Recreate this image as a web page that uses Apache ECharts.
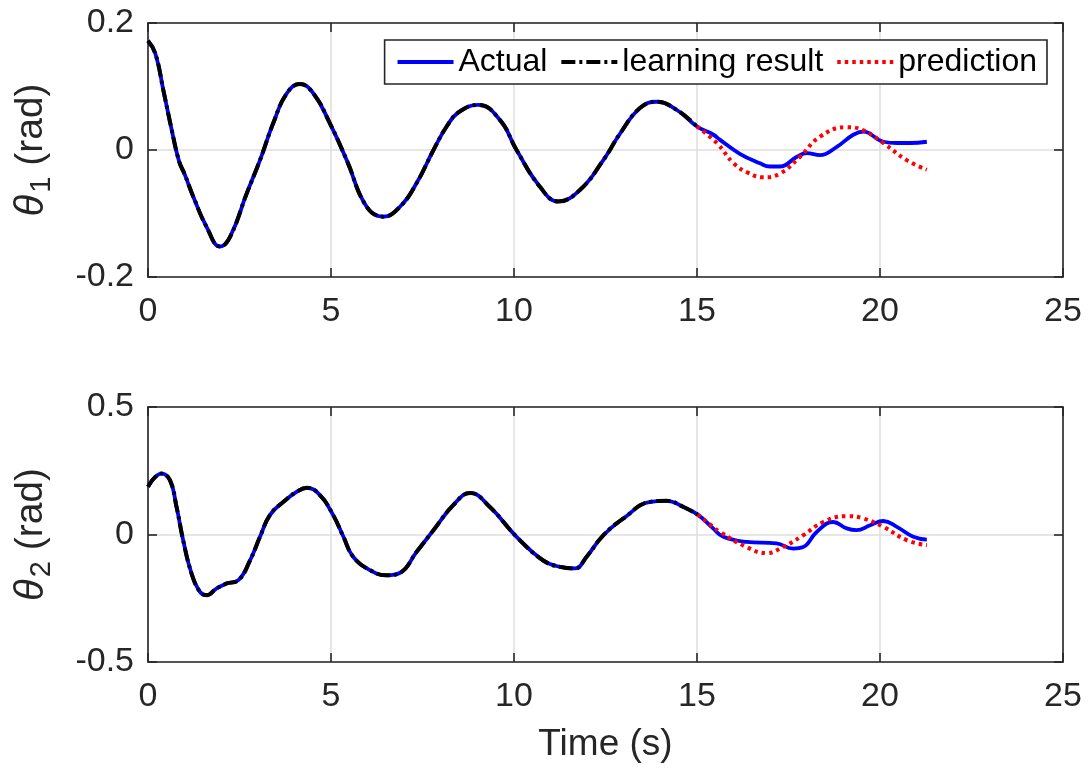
<!DOCTYPE html>
<html>
<head>
<meta charset="utf-8">
<script src="https://cdn.jsdelivr.net/npm/echarts@6/dist/echarts.min.js"></script>
<style>html,body{margin:0;padding:0;background:#fff}#c{width:1088px;height:769px}</style>
</head>
<body>
<div id="c"></div>
<script>
// ---- data ----
// theta1: learning part (actual == learning result up to t=15)
const th1LearnT = [0, 0.2, 0.42, 0.65, 0.85, 1.0, 1.24, 1.6, 1.97, 2.24, 2.7, 3.06, 3.42, 3.79, 4.15, 4.52, 4.97, 5.43, 5.97, 6.43, 6.89, 7.34, 7.8, 8.16, 8.5, 9.03, 9.62, 10.07, 10.71, 11.21, 11.8, 12.44, 12.9, 13.44, 13.9, 14.45, 15.0];
const th1LearnV = [0.172, 0.152, 0.094, 0.031, -0.018, -0.038, -0.074, -0.121, -0.152, -0.137, -0.068, -0.016, 0.042, 0.089, 0.104, 0.089, 0.042, -0.016, -0.089, -0.105, -0.089, -0.052, 0.0, 0.037, 0.06, 0.071, 0.047, 0.0, -0.058, -0.081, -0.063, -0.016, 0.026, 0.066, 0.076, 0.063, 0.037];
const th1TailT = [15.45, 15.63, 16.17, 16.72, 16.99, 17.27, 17.72, 18.0, 18.36, 18.82, 19.27, 19.54, 20.09, 20.46, 20.82, 21.28];
const th1TailV = [0.024, 0.016, -0.006, -0.021, -0.026, -0.026, -0.011, -0.005, -0.008, 0.005, 0.024, 0.029, 0.013, 0.011, 0.011, 0.013];
const th1PredT = [15.0, 15.54, 16.0, 16.4, 16.81, 17.27, 17.81, 18.36, 19.09, 19.54, 20.09, 20.73, 21.28];
const th1PredV = [0.037, 0.011, -0.021, -0.036, -0.043, -0.037, -0.011, 0.021, 0.036, 0.031, 0.011, -0.016, -0.031];

// theta2
const th2LearnT = [0, 0.37, 0.6, 0.78, 0.96, 1.19, 1.42, 1.6, 1.87, 2.15, 2.47, 2.79, 3.06, 3.33, 3.7, 4.06, 4.34, 4.7, 5.06, 5.34, 5.61, 6.07, 6.52, 6.89, 7.34, 7.8, 8.34, 8.8, 9.34, 10.07, 10.79, 11.26, 11.67, 11.98, 12.44, 12.99, 13.72, 14.17, 14.63, 15.02];
const th2LearnV = [0.187, 0.239, 0.213, 0.108, -0.022, -0.153, -0.225, -0.238, -0.212, -0.192, -0.179, -0.101, -0.009, 0.076, 0.128, 0.167, 0.183, 0.154, 0.076, -0.009, -0.088, -0.14, -0.16, -0.15, -0.068, 0.017, 0.115, 0.163, 0.108, -0.009, -0.101, -0.127, -0.133, -0.088, -0.003, 0.063, 0.128, 0.132, 0.108, 0.078];
const th2TailT = [15.44, 15.72, 16.35, 17.17, 17.63, 17.9, 18.27, 18.72, 19.09, 19.36, 19.73, 20.09, 20.46, 20.91, 21.28];
const th2TailV = [0.024, -0.009, -0.029, -0.035, -0.055, -0.049, 0.01, 0.049, 0.024, 0.017, 0.036, 0.053, 0.03, -0.009, -0.02];
const th2PredT = [15.02, 15.44, 15.63, 16.35, 16.9, 17.35, 17.9, 18.45, 19.09, 19.54, 20.09, 20.73, 21.28];
const th2PredV = [0.078, 0.03, 0.01, -0.049, -0.073, -0.049, -0.003, 0.049, 0.072, 0.063, 0.03, -0.022, -0.042];

const legendNames = ['Actual', 'learning result', 'prediction'];

// ---- build ----
const zip = (t, v) => t.map((x, i) => [x, v[i]]);
const th1Learn = zip(th1LearnT, th1LearnV);
const th1Actual = th1Learn.concat(zip(th1TailT, th1TailV));
const th1Pred = zip(th1PredT, th1PredV);
const th2Learn = zip(th2LearnT, th2LearnV);
const th2Actual = th2Learn.concat(zip(th2TailT, th2TailV));
const th2Pred = zip(th2PredT, th2PredV);

const FONT = 'Liberation Sans, Arial, sans-serif';
const DARK = '#262626';
const GRIDC = '#dedede';

function fmt(v) { return Math.abs(v) < 1e-9 ? '0' : String(+v.toFixed(2)); }

function mainX(gi, showName) {
  return {
    type: 'value', gridIndex: gi, min: 0, max: 25, interval: 5, position: 'bottom',
    axisLine: { show: true, onZero: false, lineStyle: { color: DARK, width: 1.6 } },
    axisTick: { show: true, inside: true, length: 9, lineStyle: { color: DARK, width: 1.6 } },
    axisLabel: { show: true, fontSize: 34, fontFamily: FONT, color: DARK, margin: 18, formatter: fmt },
    splitLine: { show: true, lineStyle: { color: GRIDC, width: 1.5 } },
    name: showName ? 'Time (s)' : '', nameLocation: 'middle', nameGap: 64,
    nameTextStyle: { fontSize: 37, fontFamily: FONT, color: DARK }
  };
}
function mirrorX(gi) {
  return {
    type: 'value', gridIndex: gi, min: 0, max: 25, interval: 5, position: 'top',
    axisLine: { show: true, onZero: false, lineStyle: { color: DARK, width: 1.6 } },
    axisTick: { show: true, inside: true, length: 9, lineStyle: { color: DARK, width: 1.6 } },
    axisLabel: { show: false }, splitLine: { show: false }
  };
}
function mainY(gi, mn, mx, iv, sub) {
  return {
    type: 'value', gridIndex: gi, min: mn, max: mx, interval: iv, position: 'left',
    axisLine: { show: true, onZero: false, lineStyle: { color: DARK, width: 1.6 } },
    axisTick: { show: true, inside: true, length: 9, lineStyle: { color: DARK, width: 1.6 } },
    axisLabel: { show: true, fontSize: 34, fontFamily: FONT, color: DARK, margin: 14, formatter: fmt },
    splitLine: { show: true, lineStyle: { color: GRIDC, width: 1.5 } },
    name: '{th|θ}{sub|' + sub + '}{n| (rad)}', nameLocation: 'middle', nameGap: 92, nameRotate: 90,
    nameTextStyle: {
      fontSize: 39, fontFamily: FONT, color: DARK,
      rich: {
        th: { fontSize: 40, fontStyle: 'italic', fontFamily: FONT, color: DARK },
        sub: { fontSize: 29, fontFamily: FONT, color: DARK, padding: [20, 0, 0, 2] },
        n: { fontSize: 39, fontFamily: FONT, color: DARK }
      }
    }
  };
}
function mirrorY(gi, mn, mx, iv) {
  return {
    type: 'value', gridIndex: gi, min: mn, max: mx, interval: iv, position: 'right',
    axisLine: { show: true, onZero: false, lineStyle: { color: DARK, width: 1.6 } },
    axisTick: { show: true, inside: true, length: 9, lineStyle: { color: DARK, width: 1.6 } },
    axisLabel: { show: false }, splitLine: { show: false }
  };
}

function series(name, data, xi, yi, style, z) {
  return {
    name: name, type: 'line', data: data, xAxisIndex: xi, yAxisIndex: yi,
    symbol: 'none', showSymbol: false, smooth: 0.45, z: z, animation: false,
    itemStyle: { color: style.color },
    lineStyle: style
  };
}
const sA = { color: '#0000ff', width: 3.8, type: 'solid' };
const sL = { color: '#000000', width: 4, type: [14, 4, 3, 4], cap: 'butt' };
const sP = { color: '#ff0000', width: 4, type: [3.5, 4], cap: 'butt' };

const option = {
  backgroundColor: '#ffffff',
  animation: false,
  grid: [
    { left: 148, top: 23, width: 915, height: 254 },
    { left: 148, top: 407, width: 915, height: 255 }
  ],
  xAxis: [mainX(0, false), mirrorX(0), mainX(1, true), mirrorX(1)],
  yAxis: [mainY(0, -0.2, 0.2, 0.2, '1'), mirrorY(0, -0.2, 0.2, 0.2), mainY(1, -0.5, 0.5, 0.5, '2'), mirrorY(1, -0.5, 0.5, 0.5)],
  legend: {
    data: legendNames, top: 40, right: 41, orient: 'horizontal',
    itemWidth: 56, itemHeight: 20, itemGap: 12,
    padding: [6, 10, 6, 11],
    borderColor: DARK, borderWidth: 1.6, backgroundColor: '#ffffff',
    itemStyle: { opacity: 0 },
    lineStyle: { width: 3.8 },
    textStyle: { fontSize: 32, fontFamily: FONT, color: '#000000' }
  },
  series: [
    series(legendNames[0], th1Actual, 0, 0, sA, 2),
    series(legendNames[1], th1Learn, 0, 0, sL, 3),
    series(legendNames[2], th1Pred, 0, 0, sP, 4),
    series(legendNames[0], th2Actual, 2, 2, sA, 2),
    series(legendNames[1], th2Learn, 2, 2, sL, 3),
    series(legendNames[2], th2Pred, 2, 2, sP, 4)
  ]
};
const chart = echarts.init(document.getElementById('c'), null, { renderer: 'canvas' });
chart.setOption(option);
</script>
</body>
</html>
